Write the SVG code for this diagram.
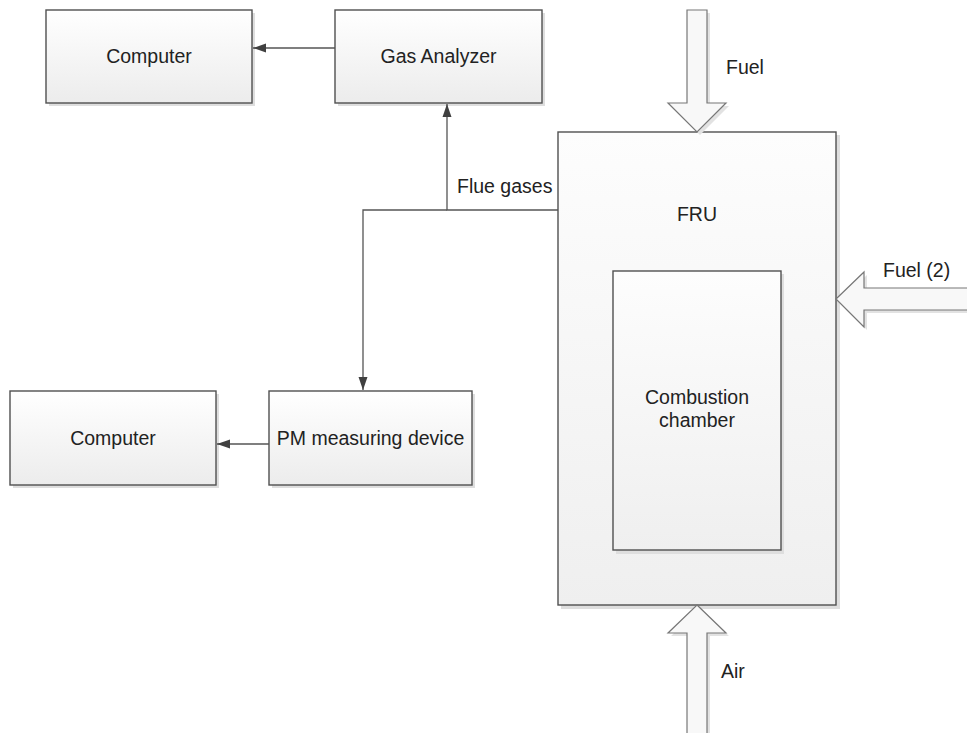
<svg xmlns="http://www.w3.org/2000/svg" width="967" height="733" viewBox="0 0 967 733">
<defs>
<linearGradient id="g" x1="0" y1="0" x2="0" y2="1"><stop offset="0" stop-color="#ffffff"/><stop offset="1" stop-color="#ececec"/></linearGradient>
<linearGradient id="gb" x1="0" y1="0" x2="0" y2="1"><stop offset="0" stop-color="#fdfdfd"/><stop offset="1" stop-color="#efefef"/></linearGradient>
<marker id="ah" markerWidth="14" markerHeight="10" refX="13" refY="5" orient="auto" markerUnits="userSpaceOnUse"><path d="M0,0.5 L13,5 L0,9.5 Z" fill="#404040"/></marker>
</defs>
<style>
.box{fill:url(#g);stroke:#505050;stroke-width:1.4}
.big{fill:url(#gb);stroke:#505050;stroke-width:1.4}
.sh{fill:#dedede}
.blk{fill:#f8f8f8;stroke:#777;stroke-width:1.2}
.bsh{fill:#e2e2e2}
text{font-family:"Liberation Sans",Arial,sans-serif;font-size:19.5px;fill:#222}
.c{text-anchor:middle}
.ln{fill:none;stroke:#555;stroke-width:1.3}
</style>
<rect width="967" height="733" fill="#fff"/>
<g id="fru">
<rect class="sh" x="561" y="135" width="279" height="474"/>
<rect class="big" x="558" y="132" width="278" height="473"/>
<text class="c" x="697" y="221">FRU</text>
</g>
<g id="chamber">
<rect class="sh" x="616" y="274" width="168" height="280"/>
<rect class="box" x="613" y="271" width="168" height="279" style="fill:url(#gb)"/>
<text class="c" x="697" y="404">Combustion</text>
<text class="c" x="697" y="427">chamber</text>
</g>
<g id="computer1">
<rect class="sh" x="49" y="13" width="206" height="93"/>
<rect class="box" x="46" y="10" width="206" height="93"/>
<text class="c" x="149" y="63">Computer</text>
</g>
<g id="gas">
<rect class="sh" x="338" y="13" width="207" height="93"/>
<rect class="box" x="335" y="10" width="207" height="93"/>
<text class="c" x="438.5" y="63">Gas Analyzer</text>
</g>
<g id="computer2">
<rect class="sh" x="13" y="394" width="206" height="94"/>
<rect class="box" x="10" y="391" width="206" height="94"/>
<text class="c" x="113" y="445">Computer</text>
</g>
<g id="pm">
<rect class="sh" x="272" y="394" width="203" height="94"/>
<rect class="box" x="269" y="391" width="203" height="94"/>
<text class="c" x="370.5" y="445">PM measuring device</text>
</g>
<g id="fuel">
<path class="bsh" d="M690,13 H710 V106 H729 L700,135 L671,106 H690 Z"/>
<path class="blk" d="M687,10 H707 V103 H726 L697,132 L668,103 H687 Z"/>
<text x="726" y="74">Fuel</text>
</g>
<g id="fuel2">
<path class="bsh" d="M839,302 L867,275 V291 H967 V313 H867 V330 Z"/>
<path class="blk" d="M836,299 L864,272 V288 H968 V310 H864 V327 Z"/>
<text x="883" y="277">Fuel (2)</text>
</g>
<g id="air">
<path class="bsh" d="M700,608 L729,636 H710 V734 H690 V636 H671 Z"/>
<path class="blk" d="M697,605 L726,633 H707 V734 H687 V633 H668 Z"/>
<text x="721" y="678">Air</text>
</g>
<g id="connectors">
<path class="ln" d="M335,48 H253" marker-end="url(#ah)"/>
<path class="ln" d="M269,444 H217" marker-end="url(#ah)"/>
<path class="ln" d="M558,210 H447 V104" marker-end="url(#ah)"/>
<path class="ln" d="M447,210 H363 V390" marker-end="url(#ah)"/>
<text x="457" y="193">Flue gases</text>
</g>
</svg>
